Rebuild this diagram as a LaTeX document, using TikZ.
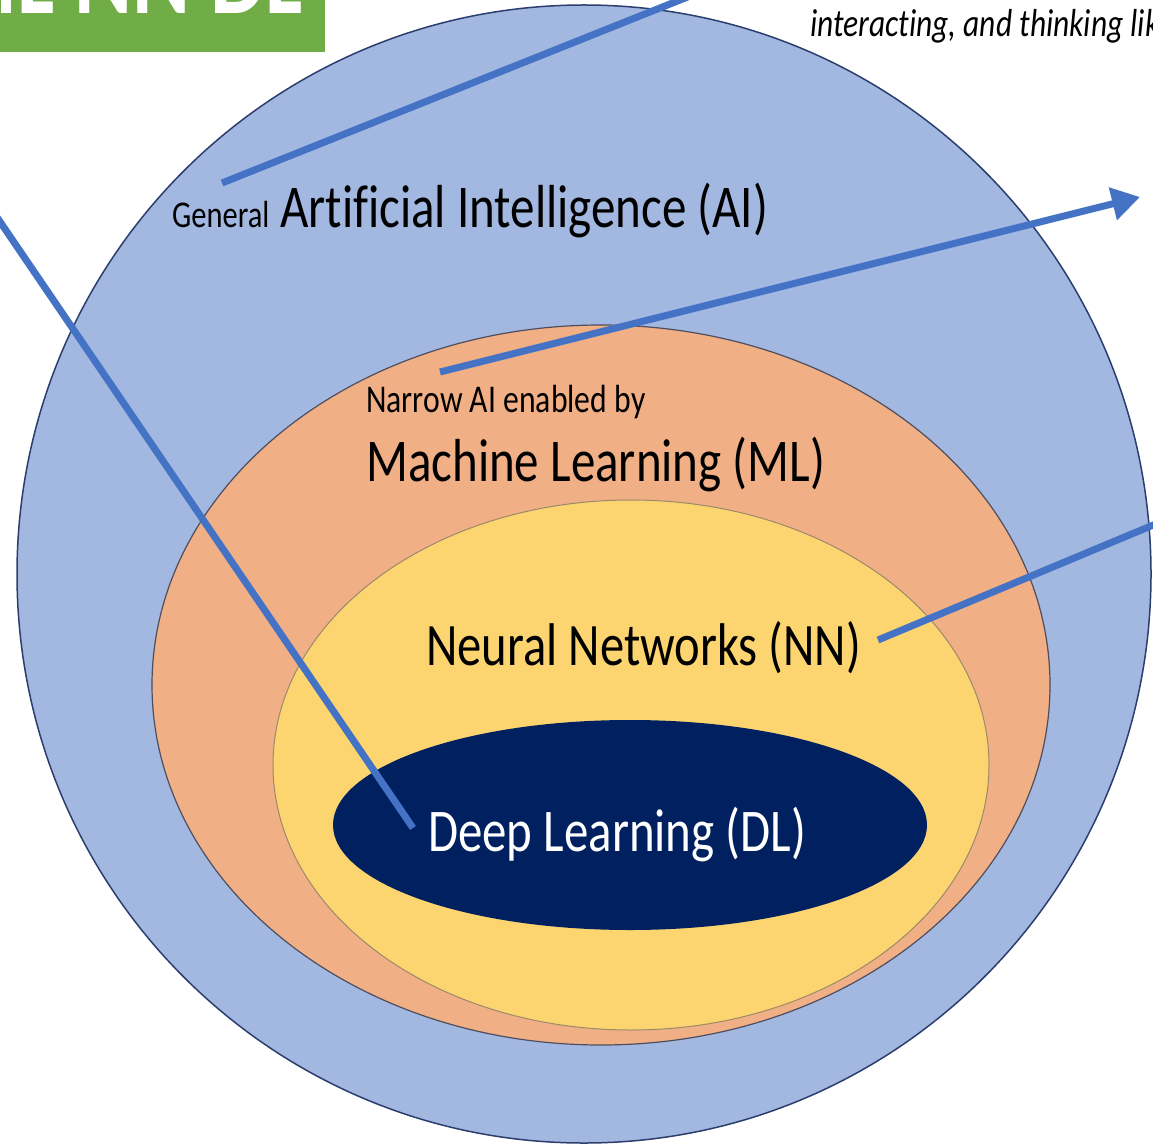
\documentclass[tikz,border=0pt]{standalone}
\usepackage{fontspec}
\usepackage{graphicx}
\setmainfont{Carlito}[Ligatures=NoCommon]
\usetikzlibrary{shapes.geometric,arrows.meta}

\definecolor{aiblue}{HTML}{A2B8E0}
\definecolor{aiedge}{HTML}{2B3E6E}
\definecolor{mlorange}{HTML}{F1AF86}
\definecolor{mledge}{HTML}{4E4E5E}
\definecolor{nnyellow}{HTML}{FDD570}
\definecolor{nnedge}{HTML}{9A8A6A}
\definecolor{dlnavy}{HTML}{002060}
\definecolor{linkblue}{HTML}{4472C4}
\definecolor{titlegreen}{HTML}{70AD47}

% taller-than-wide lettering used throughout
\newcommand{\tall}[1]{\scalebox{1}[1.24]{#1}}

\begin{document}
\begin{tikzpicture}[x=1pt,y=-1pt,
  region/.style={ellipse, inner sep=0pt},
  lbl/.style={inner sep=0pt, anchor=base west, text=black},
  pointer/.style={draw=linkblue, line width=7pt},
]
\useasboundingbox (0,0) rectangle (1153,1147);
\clip (0,0) rectangle (1153,1147);
\fill[white] (0,0) rectangle (1153,1147);

% title banner
\node[fill=titlegreen, inner sep=0pt, minimum width=325pt, minimum height=52pt, anchor=north west] (banner) at (0,0) {};
\node[inner sep=0pt, anchor=base east, text=white, font=\fontsize{88}{90}\selectfont\bfseries] (title) at (303,14) {\tall{AI ML NN DL}};

% nested regions
\node[region, fill=aiblue, draw=aiedge, line width=1.5pt, minimum width=1134pt, minimum height=1138pt] (ai) at (584,574) {};
\node[region, fill=mlorange, draw=mledge, line width=1.2pt, minimum width=898pt, minimum height=720pt] (ml) at (601,685) {};
\node[region, fill=nnyellow, draw=nnedge, line width=1pt, minimum width=716pt, minimum height=530pt] (nn) at (631,765) {};
\node[region, fill=dlnavy, minimum width=594pt, minimum height=210pt] (dl) at (630,825) {};

% labels
\node[lbl, font=\fontsize{30.5}{32}\selectfont] (general) at (172,228) {\tall{General}};
\node[lbl, font=\fontsize{49}{50}\selectfont] (aitext) at (280,228) {\tall{Artificial Intelligence (AI)}};
\node[lbl, font=\fontsize{31.7}{33}\selectfont] (narrow) at (366,412) {\tall{Narrow AI enabled by}};
\node[lbl, font=\fontsize{49}{50}\selectfont] (mltext) at (366,481) {\tall{Machine Learning (ML)}};
\node[lbl, font=\fontsize{48.6}{50}\selectfont] (nntext) at (426,665) {\tall{Neural Networks (NN)}};
\node[lbl, text=white, font=\fontsize{48.9}{50}\selectfont] (dltext) at (428,851) {\tall{Deep Learning (DL)}};
\node[lbl, font=\fontsize{31.5}{33}\selectfont\itshape] (caption) at (810,37) {\tall{interacting, and thinking like}};

% connector ends
\coordinate (aiend) at (222,183);
\coordinate (aiout) at (700,-8);
\coordinate (mlend) at (440,372);
\coordinate (mltip) at (1140,197);
\coordinate (nnend) at (878,640);
\coordinate (nnout) at (1170,518);
\coordinate (dlend) at (413,828);
\coordinate (dlout) at (-10,207);

% connectors
\draw[pointer] (aiend) -- (aiout);
\draw[pointer, -{Triangle[length=28pt,width=32pt]}] (mlend) -- (mltip);
\draw[pointer] (nnend) -- (nnout);
\draw[pointer] (dlend) -- (dlout);
\end{tikzpicture}
\end{document}
